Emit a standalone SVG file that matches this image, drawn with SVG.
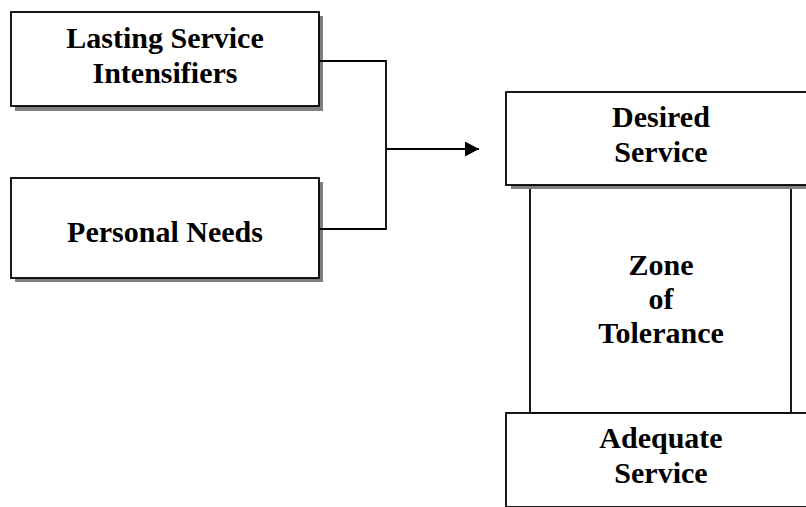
<svg xmlns="http://www.w3.org/2000/svg" width="806" height="507" viewBox="0 0 806 507">
<defs>
<style>
.shadow{fill:#808080;stroke:none}
.box{fill:#fff;stroke:#000;stroke-width:1.8}
.t{font-family:"Liberation Serif","Times New Roman",serif;font-weight:bold;font-size:30px;fill:#000;text-anchor:middle}
.conn{fill:none;stroke:#000;stroke-width:1.8}
</style>
<marker id="ah" markerUnits="userSpaceOnUse" markerWidth="15" markerHeight="15" refX="14" refY="7.5" orient="auto">
<path d="M0,0 L14,7.5 L0,15 Z" fill="#000"/>
</marker>
</defs>
<rect width="806" height="507" fill="#fff"/>
<g id="lasting">
<rect class="shadow" x="15" y="16" width="308" height="95"/>
<rect class="box" x="11" y="12" width="308" height="94"/>
<text class="t" x="165" y="48">Lasting Service</text>
<text class="t" x="165" y="83">Intensifiers</text>
</g>
<g id="personal">
<rect class="shadow" x="15" y="182" width="308" height="100"/>
<rect class="box" x="11" y="178" width="308" height="100"/>
<text class="t" x="165" y="242">Personal Needs</text>
</g>
<g id="zone">
<rect class="box" x="530" y="186" width="261" height="227"/>
<text class="t" x="661" y="275">Zone</text>
<text class="t" x="661" y="309">of</text>
<text class="t" x="661" y="343">Tolerance</text>
</g>
<g id="desired">
<rect class="shadow" x="511" y="96" width="320" height="93"/>
<rect class="box" x="506" y="92" width="320" height="93"/>
<text class="t" x="661" y="127">Desired</text>
<text class="t" x="661" y="162">Service</text>
</g>
<g id="adequate">
<rect class="box" x="506" y="413" width="320" height="94"/>
<text class="t" x="661" y="448">Adequate</text>
<text class="t" x="661" y="483">Service</text>
</g>
<g id="connectors">
<path class="conn" d="M319,61 H386 V229 H319"/>
<path class="conn" d="M386,149 H479" marker-end="url(#ah)"/>
</g>
</svg>
